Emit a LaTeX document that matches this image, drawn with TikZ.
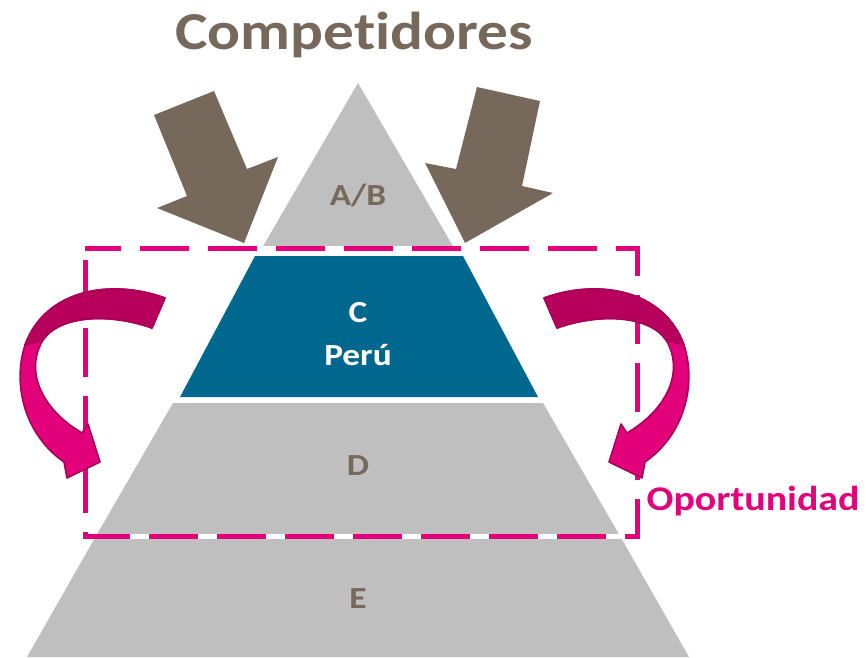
\documentclass[tikz,border=0pt]{standalone}
\usepackage{fontspec}
\setmainfont{Carlito}[Ligatures=NoCommon]
\usepackage{tikz}

\definecolor{pyrgray}{RGB}{191,191,191}
\definecolor{pyrteal}{RGB}{0,104,143}
\definecolor{brownish}{RGB}{118,105,91}
\definecolor{magbright}{RGB}{227,0,123}
\definecolor{magdeep}{RGB}{182,0,92}
\definecolor{magline}{RGB}{168,0,86}

\newcommand{\wide}[1]{\scalebox{1.15}[1]{#1}}

\tikzset{
  layer/.style={fill=pyrgray, draw=none},
  lbl/.style={anchor=base, inner sep=0pt, font=\bfseries\fontsize{23pt}{28pt}\selectfont, text=brownish},
  bentarrow/.style={fill=magbright, draw=magline, line width=1.2pt, line join=round},
  bentdark/.style={fill=magdeep, draw=magline, line width=1.2pt, line join=round}
}

\begin{document}
\begin{tikzpicture}[x=0.75pt,y=0.75pt,yscale=-1,xscale=1]
\useasboundingbox (0,0) rectangle (866,657);

%Shape: Pyramid layers
\fill[layer] (358,83) -- (454,248) -- (262,248) -- cycle ;
\fill[pyrteal] (255,256) -- (463,256) -- (538,397) -- (180,397) -- cycle ;
\fill[layer] (173,403) -- (543,403) -- (620,536) -- (96,536) -- cycle ;
\fill[layer] (96,536) -- (620,536) -- (689,657) -- (27,657) -- cycle ;

%Shape: Dashed frame
\draw[white, line width=3.75pt] (85,248) rectangle (637,536) ;
\draw[magbright, line width=3.75pt, dash pattern=on 37pt off 14pt, dash phase=10pt] (85,248) -- (637,248) -- (637,536) -- (85,536) -- cycle ;

%Shape: Block arrows (competitors)
\fill[brownish] (154,115) -- (214,91) -- (247,169) -- (278,157) -- (244,243) -- (157,208) -- (187,196) -- cycle ;
\fill[brownish] (477,87) -- (540,101) -- (522,186) -- (553,193) -- (465,243) -- (425,163) -- (456,169) -- cycle ;

%Shape: Curved arrows (left, then mirrored right)
\foreach \sx/\dx in {1/0,-1/709} {
\begin{scope}[shift={(\dx,0)}, xscale=\sx]
\draw[bentarrow] (165,298) .. controls (110,278) and (45,290) .. (25,345) .. controls (12,385) and (25,435) .. (64,462) -- (67,478) -- (100,462) -- (88,424) -- (82,433) .. controls (40,408) and (25,370) .. (43,340) .. controls (60,315) and (110,313) .. (152,328) -- cycle ;
\draw[bentdark] (165,298) .. controls (110,278) and (45,290) .. (25,345) -- (43,340) .. controls (60,315) and (110,313) .. (152,328) -- cycle ;
\end{scope}
}

%Labels
\node[lbl, font=\bfseries\fontsize{40pt}{48pt}\selectfont] (comp) at (354,49) {\wide{Competidores}};
\node[lbl] (ab) at (358,205) {\wide{A/B}};
\node[lbl, text=white] (c) at (358,322) {\wide{C}};
\node[lbl, text=white] (peru) at (358,365) {\wide{Perú}};
\node[lbl] (d) at (358,475) {\wide{D}};
\node[lbl] (e) at (358,608) {\wide{E}};
\node[lbl, text=magbright, font=\bfseries\fontsize{26pt}{31pt}\selectfont] (opor) at (753,510) {\wide{Oportunidad}};

\end{tikzpicture}
\end{document}
